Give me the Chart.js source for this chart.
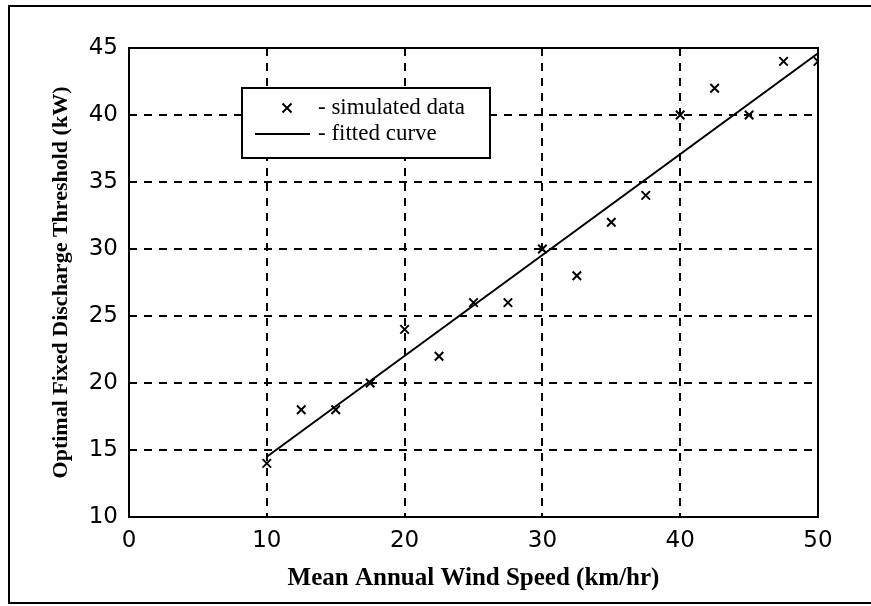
<!DOCTYPE html>
<html>
<head>
<meta charset="utf-8">
<script src="https://cdn.jsdelivr.net/npm/chart.js@4/dist/chart.umd.min.js"></script>
<style>
  html, body { margin: 0; padding: 0; background: #fff; overflow: hidden; }
  #wrap { position: relative; width: 871px; height: 606px; }
  #frame { position: absolute; left: 8px; top: 5px; width: 900px; height: 595px;
           border: 2px solid #000; pointer-events: none; }
</style>
</head>
<body>
<div id="wrap">
  <canvas id="windChart" width="871" height="606"></canvas>
  <div id="frame"></div>
</div>
<script>
// simulated data (crosses)
var speed = [10, 12.5, 15, 17.5, 20, 22.5, 25, 27.5, 30, 32.5, 35, 37.5, 40, 42.5, 45, 47.5, 50];
var threshold = [14, 18, 18, 20, 24, 22, 26, 26, 30, 28, 32, 34, 40, 42, 40, 44, 44];
// fitted curve end points
var fit_x = [10, 50];
var fit_y = [14.5, 44.6];

var x_ticks = [0, 10, 20, 30, 40, 50];
var y_ticks = [10, 15, 20, 25, 30, 35, 40, 45];

var pts = speed.map(function(v, i){ return {x: v, y: threshold[i]}; });
var fit = fit_x.map(function(v, i){ return {x: v, y: fit_y[i]}; });

var tickFont = {family: '"DejaVu Sans", sans-serif', size: 23};
var serif = '"Liberation Serif", "Times New Roman", serif';

// grid line colour: hide the ones that sit on the box edges
function gridColor(c){
    var t = c.tick ? c.tick.value : null;
    var s = c.scale;
    if(t === s.min || t === s.max) return 'rgba(0,0,0,0)';
    return '#000';
}

var boxPlugin = {
    id: 'boxPlugin',
    afterDraw: function(chart){
        var ctx = chart.ctx;
        var a = chart.chartArea;
        ctx.save();
        ctx.strokeStyle = '#000';
        ctx.lineWidth = 2;
        ctx.strokeRect(a.left, a.top, a.right - a.left, a.bottom - a.top);

        // legend box
        var lx = a.left + 113, ly = a.top + 40, lw = 248, lh = 70;
        ctx.fillStyle = '#fff';
        ctx.fillRect(lx, ly, lw, lh);
        ctx.lineWidth = 2;
        ctx.strokeRect(lx, ly, lw, lh);

        var ds = chart.data.datasets;
        // cross sample
        var cx = lx + 45, cy = ly + 20, r = 4.5;
        ctx.lineWidth = 2;
        ctx.beginPath();
        ctx.moveTo(cx - r, cy - r); ctx.lineTo(cx + r, cy + r);
        ctx.moveTo(cx + r, cy - r); ctx.lineTo(cx - r, cy + r);
        ctx.stroke();
        // line sample
        ctx.lineWidth = 2;
        ctx.beginPath();
        ctx.moveTo(lx + 13, ly + 46); ctx.lineTo(lx + 68, ly + 46);
        ctx.stroke();

        ctx.fillStyle = '#000';
        ctx.font = '23px ' + serif;
        ctx.textBaseline = 'middle';
        ctx.textAlign = 'left';
        ctx.fillText('- ' + ds[0].label, lx + 76, cy);
        ctx.fillText('- ' + ds[1].label, lx + 76, ly + 46);
        ctx.restore();
    }
};

var chart = new Chart(document.getElementById('windChart').getContext('2d'), {
    type: 'scatter',
    data: {
        datasets: [{
            label: 'simulated data',
            data: pts,
            pointStyle: 'crossRot',
            pointRadius: 6,
            borderColor: '#000',
            borderWidth: 2,
            showLine: false
        }, {
            label: 'fitted curve',
            data: fit,
            showLine: true,
            pointRadius: 0,
            borderColor: '#000',
            borderWidth: 2,
            fill: false
        }]
    },
    options: {
        responsive: false,
        animation: false,
        layout: {padding: {left: 0, top: 48, right: 53, bottom: 0}},
        plugins: {legend: {display: false}, tooltip: {enabled: false}},
        scales: {
            x: {
                type: 'linear',
                min: 0, max: 50,
                afterBuildTicks: function(s){ s.ticks = x_ticks.map(function(v){ return {value: v}; }); },
                afterFit: function(s){ s.height = 89; },
                ticks: {font: tickFont, color: '#000', padding: 10, maxRotation: 0},
                grid: {color: gridColor, lineWidth: 2, drawTicks: false},
                border: {display: false, dash: [8, 7]},
                title: {display: true, text: 'Mean Annual Wind Speed (km/hr)',
                        font: {family: serif, size: 25, weight: 'bold'},
                        color: '#000', padding: {top: 0, bottom: 12}}
            },
            y: {
                type: 'linear',
                min: 10, max: 45,
                afterBuildTicks: function(s){ s.ticks = y_ticks.map(function(v){ return {value: v}; }); },
                afterFit: function(s){ s.width = 129; },
                ticks: {font: tickFont, color: '#000', padding: 11},
                grid: {color: gridColor, lineWidth: 2, drawTicks: false},
                border: {display: false, dash: [8, 7]},
                title: {display: true, text: 'Optimal Fixed Discharge Threshold (kW)',
                        font: {family: serif, size: 22, weight: 'bold'},
                        color: '#000', padding: {top: 48, bottom: 0}}
            }
        }
    },
    plugins: [boxPlugin]
});
</script>
</body>
</html>
